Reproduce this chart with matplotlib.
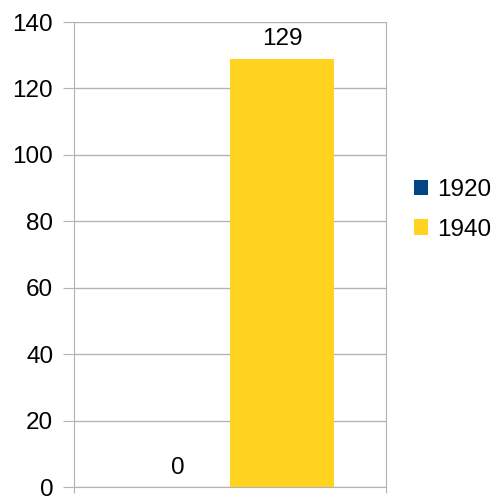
import numpy as np
import matplotlib.pyplot as plt

plt.rcParams['font.family'] = ['Liberation Sans', 'DejaVu Sans']

series = ["1920", "1940"]
values = [0, 129]
colors = ["#004586", "#ffd320"]
yticks = [0, 20, 40, 60, 80, 100, 120, 140]

fs = 17.5
fig = plt.figure(figsize=(4.98, 4.97), dpi=100)
ax = fig.add_axes([74 / 498, 10 / 497, 312 / 498, 465 / 497])

w = 1 / 3
offsets = [-w / 2, w / 2]
for name, v, c, off in zip(series, values, colors, offsets):
    bars = ax.bar(off, v, width=w, color=c, label=name, zorder=2)
    ax.bar_label(bars, labels=[str(v)], padding=6, fontsize=fs)

ax.set_xlim(-0.5, 0.5)
ax.set_ylim(0, 140)
ax.set_yticks(yticks)
ax.set_yticklabels([str(t) for t in yticks], fontsize=fs)
ax.yaxis.grid(True, color="#b3b3b3", linewidth=1, zorder=0)
ax.tick_params(axis="y", length=8, color="#b3b3b3", pad=7)
ax.set_xticks([-0.5, 0.5])
ax.set_xticklabels(["", ""])
ax.tick_params(axis="x", length=4, color="#b3b3b3")
for s in ["left", "right", "bottom"]:
    ax.spines[s].set_color("#b3b3b3")
ax.spines["top"].set_visible(False)

ax.legend(loc="center left", bbox_to_anchor=(392 / 498, (497 - 210) / 497),
          bbox_transform=fig.transFigure, frameon=False,
          fontsize=fs, handlelength=0.6, handleheight=0.6, handletextpad=0.35,
          labelspacing=0.72)

fig.savefig("out.png", dpi=100)
